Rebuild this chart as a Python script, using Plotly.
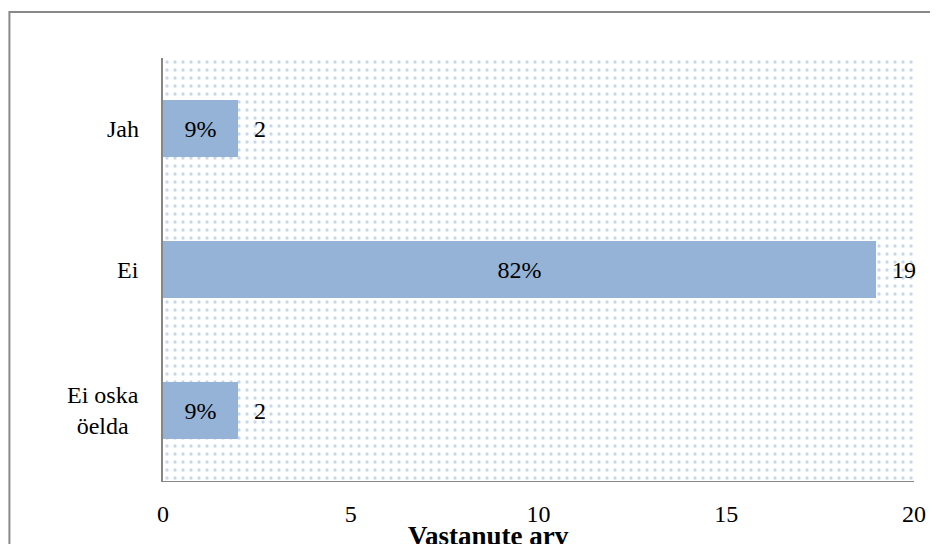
import plotly.graph_objects as go

categories = ["Jah", "Ei", "Ei oska<br>öelda"]
counts = [2, 19, 2]
percents = ["9%", "82%", "9%"]
x_ticks = [0, 5, 10, 15, 20]
axis_max = 20

FONT = "Liberation Serif"
BAR = "#95b3d7"
GRID = "#868686"

fig = go.Figure()

# dotted background filling the plot area
fig.add_trace(go.Bar(
    y=categories, x=[axis_max] * len(categories), orientation="h", width=1,
    marker=dict(color="white", line=dict(width=0),
                pattern=dict(shape=".", fgcolor="#8fb0dc", bgcolor="white", size=8, solidity=0.14)),
    hoverinfo="skip", showlegend=False,
))

fig.add_trace(go.Bar(
    y=categories, x=counts, orientation="h", width=0.4,
    marker=dict(color=BAR, line=dict(width=0)),
    text=percents, textposition="inside", insidetextanchor="middle",
    textfont=dict(family=FONT, size=24, color="black"),
    showlegend=False,
))

for c, v in zip(categories, counts):
    fig.add_annotation(x=v, y=c, xref="x", yref="y", text=str(v), showarrow=False,
                       xanchor="left", xshift=14, font=dict(family=FONT, size=24, color="black"))
    fig.add_annotation(x=0, y=c, xref="paper", yref="y", text=c, showarrow=False,
                       xanchor="right", align="center", xshift=-22,
                       font=dict(family=FONT, size=24, color="black"))

fig.add_annotation(x=0.434, y=-0.13, xref="paper", yref="paper", text="<b>Vastanute arv</b>",
                   showarrow=False, xanchor="center", yanchor="middle",
                   font=dict(family=FONT, size=27, color="black"))

# outer chart border (clipped by the image edges)
fig.add_shape(type="rect", xref="paper", yref="paper",
              x0=-0.2045, x1=1.04, y0=-0.2, y1=1.1087,
              line=dict(color="#898989", width=2), layer="below")

fig.update_layout(
    width=930, height=536,
    margin=dict(l=155, r=22, t=50, b=63),
    paper_bgcolor="white", plot_bgcolor="white",
    barmode="overlay", bargap=0,
    font=dict(family=FONT, size=24, color="black"),
    xaxis=dict(range=[0, axis_max], tickvals=x_ticks, showgrid=True, gridcolor=GRID, gridwidth=1,
               zeroline=False, showline=True, linecolor=GRID, linewidth=1, mirror=False,
               ticks="", ticklabelstandoff=11, tickfont=dict(family=FONT, size=24, color="black")),
    yaxis=dict(categoryorder="array", categoryarray=categories, autorange="reversed",
               showticklabels=False, ticks="", showgrid=False, zeroline=False,
               showline=True, linecolor=GRID, linewidth=2),
)

fig.write_html("out.html")
